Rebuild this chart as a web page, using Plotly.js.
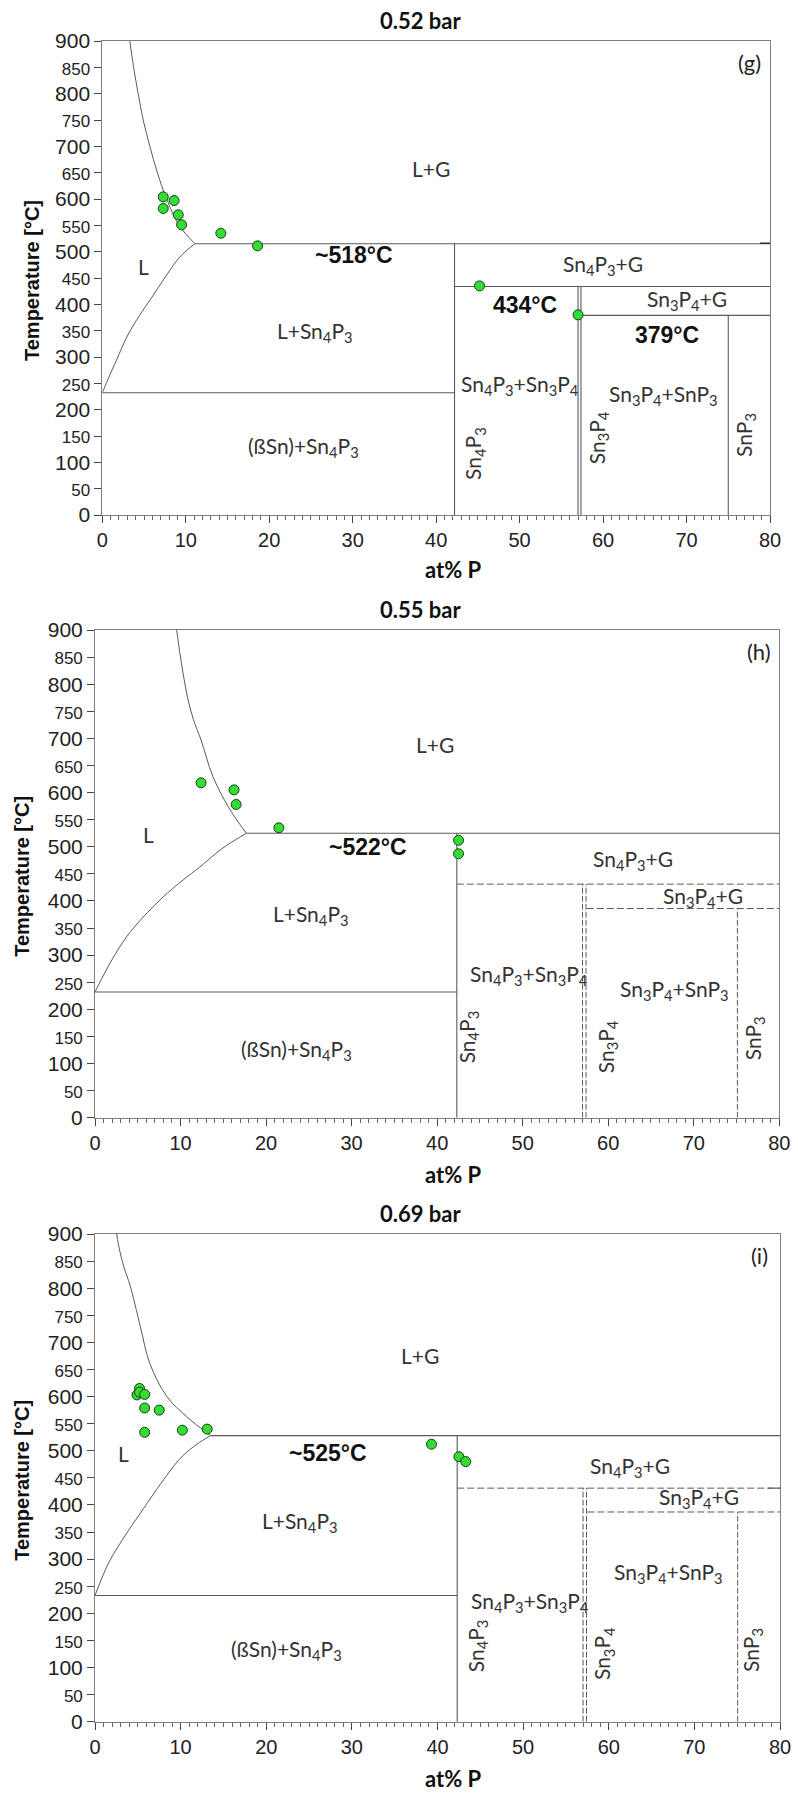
<!DOCTYPE html>
<html>
<head>
<meta charset="utf-8">
<script src="https://cdn.plot.ly/plotly-3.0.1.min.js"></script>
<style>html,body{margin:0;padding:0;background:#fff;}#chart{width:798px;height:1793px;}</style>
</head>
<body>
<div id="chart"></div>
<script>
// ---------------- DATA ----------------
const PANEL_TITLES = ['0.52 bar', '0.55 bar', '0.69 bar'];
const PANEL_TAGS = ['(g)', '(h)', '(i)'];
const X_TICKS = [0, 10, 20, 30, 40, 50, 60, 70, 80];
const Y_TICKS = [0, 50, 100, 150, 200, 250, 300, 350, 400, 450, 500, 550, 600, 650, 700, 750, 800, 850, 900];

// Panel (g) 0.52 bar
const G_LIQ_X = [3.3, 3.75, 4.3, 4.9, 5.7, 6.6, 7.7, 9.2, 11.1];
const G_LIQ_T = [900, 850, 800, 750, 700, 650, 600, 550, 515];
const G_SOL_X = [0, 0.8, 1.7, 3.0, 4.5, 5.8, 7.3, 9.3, 11.1];
const G_SOL_T = [232, 262, 294, 340, 380, 410, 446, 490, 515];
const G_PTS_X = [7.3, 7.3, 8.6, 9.1, 9.5, 14.2, 18.6, 45.2, 57.0];
const G_PTS_T = [604, 582, 597, 570, 551, 535, 511, 435, 380];
// horizontal boundaries [xStart, xEnd, T]
const G_HLINES = [[11.1, 80, 515], [0, 42.2, 232], [42.2, 80, 434], [57.3, 80, 379]];
const G_HLINES_BOLD = [[78.8, 80, 516]];
// vertical boundaries [x, Tlow, Thigh]
const G_VLINES = [[42.2, 0, 515], [57.0, 0, 434], [57.35, 0, 434], [75.0, 0, 379]];

// Panel (h) 0.55 bar
const H_LIQ_X = [9.55, 9.9, 10.3, 10.8, 11.5, 12.4, 13.8, 15.8, 17.7];
const H_LIQ_T = [900, 860, 820, 777, 735, 697, 629, 568, 525];
const H_SOL_X = [0, 0.8, 1.75, 3.0, 4.6, 7.8, 10.4, 12.2, 14.8, 17.7];
const H_SOL_T = [232, 257, 285, 318, 352, 405, 440, 462, 496, 525];
const H_PTS_X = [12.4, 16.25, 16.5, 21.5, 42.5, 42.5];
const H_PTS_T = [618, 605, 578, 535, 512, 487];
const H_HLINES_SOLID = [[17.7, 80, 525], [0, 42.3, 232]];
const H_VLINES_SOLID = [[42.3, 0, 525]];
const H_HLINES_DASH = [[42.3, 80, 431], [57.5, 80, 386]];
const H_VLINES_DASH = [[57.0, 0, 431], [57.4, 0, 431], [75.1, 0, 386]];

// Panel (i) 0.69 bar
const I_LIQ_X = [2.53, 2.9, 3.4, 4.1, 5.3, 6.4, 8.4, 10.7, 13.5];
const I_LIQ_T = [900, 868, 838, 805, 729, 661, 600, 563, 528];
const I_SOL_X = [0, 0.8, 1.75, 3.5, 5.3, 8.4, 10.2, 11.9, 13.5];
const I_SOL_T = [233, 265, 298, 343, 385, 455, 490, 512, 528];
const I_PTS_X = [4.9, 5.2, 5.2, 5.8, 5.8, 7.5, 5.8, 10.2, 13.1, 39.3, 42.5, 43.3];
const I_PTS_T = [603, 615, 608, 604, 579, 575, 534, 538, 540, 512, 489, 480];
const I_HLINES_SOLID = [[13.5, 80, 528], [0, 42.3, 233], [78.6, 80, 431]];
const I_VLINES_SOLID = [[42.3, 0, 528]];
const I_HLINES_DASH = [[42.3, 80, 431], [57.5, 80, 387]];
const I_VLINES_DASH = [[57.0, 0, 431], [57.4, 0, 431], [75.06, 0, 387]];

// Phase labels: [text, x, T, rotated]
const G_LABELS = [
  ['L+G', 39.4, 658, 0], ['L', 4.9, 471, 0], ['Sn<sub>4</sub>P<sub>3</sub>+G', 60, 475, 0],
  ['Sn<sub>3</sub>P<sub>4</sub>+G', 70, 408, 0], ['L+Sn<sub>4</sub>P<sub>3</sub>', 25.5, 348, 0],
  ['(ßSn)+Sn<sub>4</sub>P<sub>3</sub>', 24.1, 130, 0], ['Sn<sub>4</sub>P<sub>3</sub>+Sn<sub>3</sub>P<sub>4</sub>', 50.0, 247, 0],
  ['Sn<sub>3</sub>P<sub>4</sub>+SnP<sub>3</sub>', 67.2, 228, 0], ['Sn<sub>4</sub>P<sub>3</sub>', 44.6, 117, 1],
  ['Sn<sub>3</sub>P<sub>4</sub>', 59.4, 146, 1], ['SnP<sub>3</sub>', 77.0, 152, 1]
];
const G_TEMPS = [['~518°C', 30.1, 494], ['434°C', 50.6, 399], ['379°C', 67.6, 342]];
const H_LABELS = [
  ['L+G', 39.7, 688, 0], ['L', 6.2, 522, 0], ['Sn<sub>4</sub>P<sub>3</sub>+G', 62.9, 476, 0],
  ['Sn<sub>3</sub>P<sub>4</sub>+G', 71.1, 408, 0], ['L+Sn<sub>4</sub>P<sub>3</sub>', 25.3, 374, 0],
  ['(ßSn)+Sn<sub>4</sub>P<sub>3</sub>', 23.6, 125, 0], ['Sn<sub>4</sub>P<sub>3</sub>+Sn<sub>3</sub>P<sub>4</sub>', 50.7, 263, 0],
  ['Sn<sub>3</sub>P<sub>4</sub>+SnP<sub>3</sub>', 67.8, 236, 0], ['Sn<sub>4</sub>P<sub>3</sub>', 43.6, 150, 1],
  ['Sn<sub>3</sub>P<sub>4</sub>', 59.8, 131, 1], ['SnP<sub>3</sub>', 77.0, 146, 1]
];
const H_TEMPS = [['~522°C', 31.9, 500]];
const I_LABELS = [
  ['L+G', 38.0, 676, 0], ['L', 3.3, 495, 0], ['Sn<sub>4</sub>P<sub>3</sub>+G', 62.5, 470, 0],
  ['Sn<sub>3</sub>P<sub>4</sub>+G', 70.5, 412, 0], ['L+Sn<sub>4</sub>P<sub>3</sub>', 23.9, 369, 0],
  ['(ßSn)+Sn<sub>4</sub>P<sub>3</sub>', 22.4, 132, 0], ['Sn<sub>4</sub>P<sub>3</sub>+Sn<sub>3</sub>P<sub>4</sub>', 50.8, 221, 0],
  ['Sn<sub>3</sub>P<sub>4</sub>+SnP<sub>3</sub>', 67.0, 274, 0], ['Sn<sub>4</sub>P<sub>3</sub>', 44.6, 141, 1],
  ['Sn<sub>3</sub>P<sub>4</sub>', 59.4, 126, 1], ['SnP<sub>3</sub>', 76.7, 132, 1]
];
const I_TEMPS = [['~525°C', 27.2, 495]];

// ---------------- BUILD ----------------
const W = 798, H = 1793;
const px = v => v / W;
const py = v => 1 - v / H;

// plot boxes in pixels: [left, right, top, bottom]
const BOX = [[102.3, 770, 41, 515], [95, 779.3, 630, 1117.7], [95, 780, 1234, 1721.7]];
const TITLE_Y = [20, 609, 1213];
const XTITLE_Y = [570, 1174, 1778];
const YTITLE_X = [32, 22, 22];

const LINE_COL = '#5a5a5a';
const LABEL_FONT = 'Lato, "Open Sans", sans-serif';
const ARIAL = '"Liberation Sans", Arial, sans-serif';
const traces = [];
const annotations = [];

function ax(i) { return i === 0 ? ['x', 'y'] : ['x' + (i + 1), 'y' + (i + 1)]; }

function addLine(i, xs, ys, dash, width, smooth, color) {
  const [xa, ya] = ax(i);
  const line = {color: color || LINE_COL, width: width || 1, dash: dash || 'solid'};
  if (smooth) { line.shape = 'spline'; line.smoothing = 1; }
  traces.push({x: xs, y: ys, xaxis: xa, yaxis: ya, mode: 'lines', type: 'scatter', line: line, hoverinfo: 'skip'});
}
function addH(i, arr, dash, width, color) { arr.forEach(h => addLine(i, [h[0], h[1]], [h[2], h[2]], dash, width || (dash ? 1 : 1.1), false, color)); }
function addV(i, arr, dash) { arr.forEach(v => addLine(i, [v[0], v[0]], [v[1], v[2]], dash, dash ? 1 : 1.1)); }
function addPts(i, xs, ys) {
  const [xa, ya] = ax(i);
  traces.push({x: xs, y: ys, xaxis: xa, yaxis: ya, mode: 'markers', type: 'scatter',
    marker: {color: '#33dd33', size: 10, line: {color: '#1d3d1d', width: 1}}, hoverinfo: 'skip'});
}
function addLabels(i, labels) {
  const [xa, ya] = ax(i);
  labels.forEach(l => annotations.push({text: l[0], x: l[1], y: l[2], xref: xa, yref: ya,
    showarrow: false, textangle: l[3] ? -90 : 0, xanchor: 'center', yanchor: 'middle',
    font: {family: LABEL_FONT, size: 21, color: '#333'}}));
}
function addTemps(i, temps) {
  const [xa, ya] = ax(i);
  temps.forEach(t => annotations.push({text: '<b>' + t[0] + '</b>', x: t[1], y: t[2], xref: xa, yref: ya,
    showarrow: false, xanchor: 'center', yanchor: 'middle',
    font: {family: ARIAL, size: 23, color: '#111'}}));
}

// panel g
addLine(0, G_LIQ_X, G_LIQ_T, null, 1, true); addLine(0, G_SOL_X, G_SOL_T, null, 1, true);
addH(0, G_HLINES); addH(0, G_HLINES_BOLD, null, 1.6, '#333'); addV(0, G_VLINES);
addPts(0, G_PTS_X, G_PTS_T);
addLabels(0, G_LABELS); addTemps(0, G_TEMPS);
// panel h
addLine(1, H_LIQ_X, H_LIQ_T, null, 1, true); addLine(1, H_SOL_X, H_SOL_T, null, 1, true);
addH(1, H_HLINES_SOLID); addV(1, H_VLINES_SOLID);
addH(1, H_HLINES_DASH, '7px,3px'); addV(1, H_VLINES_DASH, '6px,2px');
addPts(1, H_PTS_X, H_PTS_T);
addLabels(1, H_LABELS); addTemps(1, H_TEMPS);
// panel i
addLine(2, I_LIQ_X, I_LIQ_T, null, 1, true); addLine(2, I_SOL_X, I_SOL_T, null, 1, true);
addH(2, I_HLINES_SOLID); addV(2, I_VLINES_SOLID);
addH(2, I_HLINES_DASH, '7px,3px'); addV(2, I_VLINES_DASH, '6px,2px');
addPts(2, I_PTS_X, I_PTS_T);
addLabels(2, I_LABELS); addTemps(2, I_TEMPS);

const yTickText = Y_TICKS.map(v => v % 100 === 0 ? String(v) : '<span style="font-size:17px">' + v + '</span>');

const layout = {
  width: W, height: H, autosize: false,
  margin: {l: 0, r: 0, t: 0, b: 0},
  paper_bgcolor: '#fff', plot_bgcolor: '#fff',
  showlegend: false, hovermode: false,
  annotations: annotations
};

BOX.forEach((b, i) => {
  const sfx = i === 0 ? '' : String(i + 1);
  const [xa, ya] = ax(i);
  layout['xaxis' + sfx] = {
    domain: [px(b[0]), px(b[1])], anchor: ya, range: [0, 80],
    tickmode: 'array', tickvals: X_TICKS, ticktext: X_TICKS.map(String),
    ticks: 'outside', ticklen: 7, tickwidth: 1, tickcolor: '#444',
    minor: {dtick: 1, tick0: 0, ticks: 'outside', ticklen: 4, tickwidth: 1, tickcolor: '#666', showgrid: false},
    showline: true, linecolor: '#808080', linewidth: 1, mirror: true,
    showgrid: false, zeroline: false, fixedrange: true,
    tickfont: {family: ARIAL, size: 20, color: '#222'}
  };
  layout['yaxis' + sfx] = {
    domain: [py(b[3]), py(b[2])], anchor: xa, range: [0, 900],
    tickmode: 'array', tickvals: Y_TICKS, ticktext: yTickText,
    ticks: 'outside', ticklen: 7, tickwidth: 1, tickcolor: '#444',
    showline: true, linecolor: '#808080', linewidth: 1, mirror: true,
    showgrid: false, zeroline: false, fixedrange: true,
    tickfont: {family: ARIAL, size: 21, color: '#222'}
  };
  annotations.push({text: '<b>' + PANEL_TITLES[i] + '</b>', x: px(421), y: py(TITLE_Y[i]), xref: 'paper', yref: 'paper',
    showarrow: false, xanchor: 'center', yanchor: 'middle',
    font: {family: LABEL_FONT, size: 22, color: '#111'}});
  annotations.push({text: PANEL_TAGS[i], x: 77.6, y: 860, xref: xa, yref: ya,
    showarrow: false, xanchor: 'center', yanchor: 'middle',
    font: {family: LABEL_FONT, size: 22, color: '#222'}});
  annotations.push({text: '<b>at% P</b>', x: px(453), y: py(XTITLE_Y[i]), xref: 'paper', yref: 'paper',
    showarrow: false, xanchor: 'center', yanchor: 'middle',
    font: {family: LABEL_FONT, size: 22, color: '#111'}});
  annotations.push({text: '<b>Temperature [°C]</b>', x: px(YTITLE_X[i]), y: py((b[2] + b[3]) / 2 + 3), xref: 'paper', yref: 'paper',
    showarrow: false, textangle: -90, xanchor: 'center', yanchor: 'middle',
    font: {family: ARIAL, size: 20, color: '#111'}});
});

Plotly.newPlot('chart', traces, layout, {displayModeBar: false, staticPlot: true});
</script>
</body>
</html>
